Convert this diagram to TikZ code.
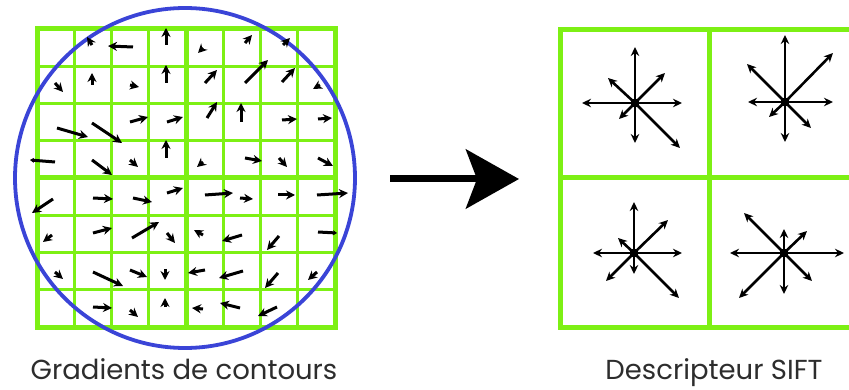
\documentclass[tikz,border=0pt]{standalone}
\usepackage{fontspec}
\setmainfont{Poppins}
\usetikzlibrary{arrows.meta}
\definecolor{gridgreen}{RGB}{125,240,20}
\definecolor{circblue}{RGB}{58,68,215}
\definecolor{txtgray}{RGB}{45,45,45}
\tikzset{
  gthin/.style={draw=gridgreen,line width=2.6pt},
  gthick/.style={draw=gridgreen,line width=5pt},
  garrow/.style={draw=black,line width=3pt,-{Stealth[length=9pt,width=9pt]}},
  gsmall/.style={draw=black,line width=3pt,-{Stealth[length=4pt,width=5pt]}},
  sarrow/.style={draw=black,line width=2.6pt,-{Stealth[length=9pt,width=8.5pt]}},
  bigarrow/.style={draw=black,line width=7pt,-{Stealth[length=53pt,width=59pt,inset=11pt]}},
  lbl/.style={text=txtgray,font=\fontsize{27.5}{32}\selectfont,anchor=base,inner sep=0pt}
}
\begin{document}
\begin{tikzpicture}[x=1pt,y=-1pt]
\useasboundingbox (0,0) rectangle (849,390);
\fill[white] (0,0) rectangle (849,390);
% left grid
\foreach \i in {1,2,3,5,6,7} {
  \draw[gthin] ({37+37.25*\i},29) -- ({37+37.25*\i},327);
  \draw[gthin] (37,{29+37.25*\i}) -- (335,{29+37.25*\i});
}
\draw[gthick] (186,29) -- (186,327);
\draw[gthick] (37,178) -- (335,178);
\draw[gthick] (37,29) rectangle (335,327);
% circle
\draw[circblue,line width=3.8pt] (185,178) circle [radius=170pt];
% gradient arrows
\foreach \a/\b/\c/\d in {
 92/45/87/37, 133/47/108/46, 166/45/166/28, 203/48/198/53, 245/43/252/35, 283/45/290/38,
 55/83/63/92, 92/85/92/73, 130/85/139/87, 166/83/166/65, 205/83/217/70, 245/83/268/60, 282/82/295/68, 320/85/313/89,
 57/128/88/137, 92/123/122/143, 130/122/148/117, 167/122/183/117, 207/118/217/102, 241/122/241/103, 282/120/297/119, 318/119/332/118,
 92/160/112/175, 130/160/138/167, 166/158/166/140, 203/162/197/167, 245/158/262/161, 279/158/287/167, 318/158/333/166,
 53/199/32/213, 93/198/113/199, 133/198/152/202, 167/193/183/188, 205/195/233/193, 240/198/253/199, 278/195/295/195, 317/195/348/193,
 52/235/43/242, 93/233/112/228, 132/238/159/222, 167/233/175/243, 203/235/194/230, 242/235/222/241, 279/236/267/250,
 55/272/63/279, 93/272/123/286, 130/270/147/277, 165/269/165/280, 205/270/188/273, 243/271/219/278, 278/273/265/288, 317/272/308/280,
 93/307/112/308, 130/310/138/317, 165/307/165/298, 203/309/192/308, 240/308/220/303, 277/307/258/316}
 { \draw[garrow] (\a,\b) -- (\c,\d); }
\draw[gsmall] (55,162) -- (30,160);
\draw[gsmall] (318,232) -- (337,233);
% big arrow
\coordinate (arrS) at (390,179);
\coordinate (arrE) at (519,179);
\draw[bigarrow] (arrS) -- (arrE);
% right grid
\draw[gthick] (709,30) -- (709,327);
\draw[gthick] (560,178) -- (860,178);
\draw[gthick] (560,30) rectangle (858,327);
% stars
\coordinate (s1) at (635,103);
\coordinate (s2) at (785,102);
\coordinate (s3) at (634,253);
\coordinate (s4) at (784,253);
\foreach \p in {(635,47),(635,143),(582,103),(682,103),(665,73),(608,78),(619,119),(680,148)}
  { \draw[sarrow] (s1) -- \p; }
\foreach \p in {(785,35),(785,142),(748,102),(833,102),(833,53),(747,64),(769,117),(811,128)}
  { \draw[sarrow] (s2) -- \p; }
\foreach \p in {(634,202),(634,274),(593,253),(682,253),(668,220),(618,238),(606,281),(679,298)}
  { \draw[sarrow] (s3) -- \p; }
\foreach \p in {(784,229),(784,294),(730,253),(844,253),(807,231),(744,213),(739,298),(812,281)}
  { \draw[sarrow] (s4) -- \p; }
\foreach \s in {s1,s2,s3,s4} { \fill[black] (\s) circle [radius=4.5pt]; }
% labels
\node[lbl] (lblL) at (184,379) {Gradients de contours};
\node[lbl] (lblR) at (714,379) {Descripteur SIFT};
\end{tikzpicture}
\end{document}
